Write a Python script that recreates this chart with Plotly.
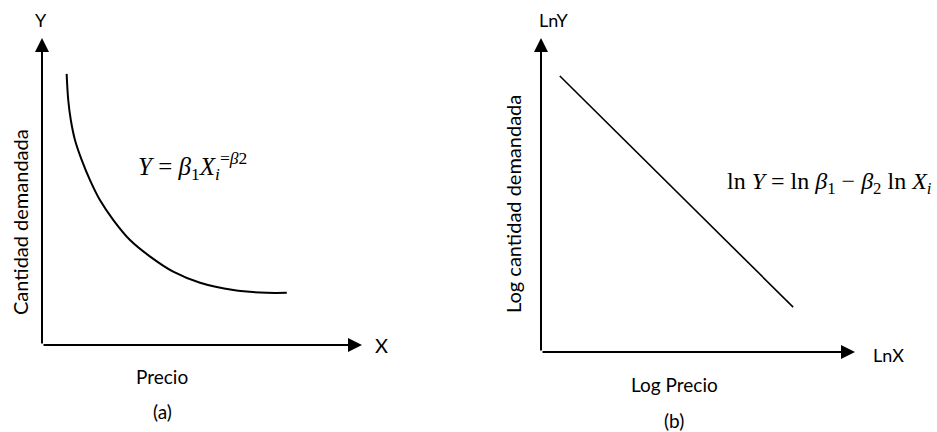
import plotly.graph_objects as go

# Panel (a): demand curve Y = b1 * X^-b2
curve_x = [0.77, 0.82, 0.90, 1.03, 1.24, 1.50, 1.81, 2.23, 2.75, 3.38, 4.10, 4.94, 5.98, 7.02, 7.65]
curve_y = [8.83, 7.98, 7.33, 6.68, 6.03, 5.37, 4.72, 4.07, 3.42, 2.88, 2.39, 2.03, 1.79, 1.70, 1.70]

# Panel (b): log-log straight line
line_x = [0.60, 8.03]
line_y = [8.79, 1.43]

axis_max = 10

SANS = "Lato"
SERIF = "Liberation Serif"

fig = go.Figure()
fig.add_trace(go.Scatter(x=curve_x, y=curve_y, mode="lines",
                         line=dict(color="black", width=2, shape="spline", smoothing=1.0),
                         xaxis="x", yaxis="y", hoverinfo="skip"))
fig.add_trace(go.Scatter(x=line_x, y=line_y, mode="lines",
                         line=dict(color="black", width=1.6),
                         xaxis="x2", yaxis="y2", hoverinfo="skip"))

ax_common = dict(showgrid=False, zeroline=False, showticklabels=False,
                 showline=False, ticks="", fixedrange=True)
fig.update_layout(
    width=937, height=432,
    margin=dict(l=0, r=0, t=0, b=0),
    paper_bgcolor="white", plot_bgcolor="white",
    showlegend=False,
    xaxis=dict(domain=[42/937, 362/937], range=[0, axis_max], **ax_common),
    yaxis=dict(domain=[1-345/432, 1-38/432], range=[0, axis_max], **ax_common),
    xaxis2=dict(domain=[541/937, 855/937], range=[0, axis_max], anchor="y2", **ax_common),
    yaxis2=dict(domain=[1-352/432, 1-38/432], range=[0, axis_max], anchor="x2", **ax_common),
)

ann = []
# axis arrows
for xr, yr in (("x", "y"), ("x2", "y2")):
    ann.append(dict(x=axis_max, y=0, ax=0, ay=0, xref=xr, yref=yr, axref=xr, ayref=yr,
                    text="", showarrow=True, arrowhead=2, arrowsize=1.4, arrowwidth=2,
                    arrowcolor="black"))
    ann.append(dict(x=0, y=axis_max, ax=0, ay=0, xref=xr, yref=yr, axref=xr, ayref=yr,
                    text="", showarrow=True, arrowhead=2, arrowsize=1.4, arrowwidth=2,
                    arrowcolor="black"))

def txt(x, y, s, size=19, font=SANS, angle=0, xanchor="center"):
    ann.append(dict(x=x/937, y=1-y/432, xref="paper", yref="paper", text=s,
                    showarrow=False, textangle=angle, xanchor=xanchor, yanchor="middle",
                    font=dict(family=font, size=size, color="black")))

txt(41, 20, "Y", size=18)
txt(381, 345, "X", size=20)
txt(20, 222, "Cantidad demandada", size=20, angle=-90)
txt(162, 376, "Precio")
txt(162, 411, "(a)")
txt(136, 166,
    "<i>Y</i> = <i>β</i><sub>1</sub><i>X</i><sub><i>i</i></sub><sup>=<i>β</i>2</sup>",
    size=25, font=SERIF, xanchor="left")

txt(553, 20, "LnY", size=18)
txt(888, 355, "LnX", size=18)
txt(513, 204, "Log cantidad demandada", size=20, angle=-90)
txt(674, 384, "Log Precio")
txt(674, 420, "(b)")
txt(725, 183,
    "ln <i>Y</i> = ln <i>β</i><sub>1</sub> − <i>β</i><sub>2</sub> ln <i>X</i><sub><i>i</i></sub>",
    size=24, font=SERIF, xanchor="left")

fig.update_layout(annotations=ann)
fig.write_html("out.html")
